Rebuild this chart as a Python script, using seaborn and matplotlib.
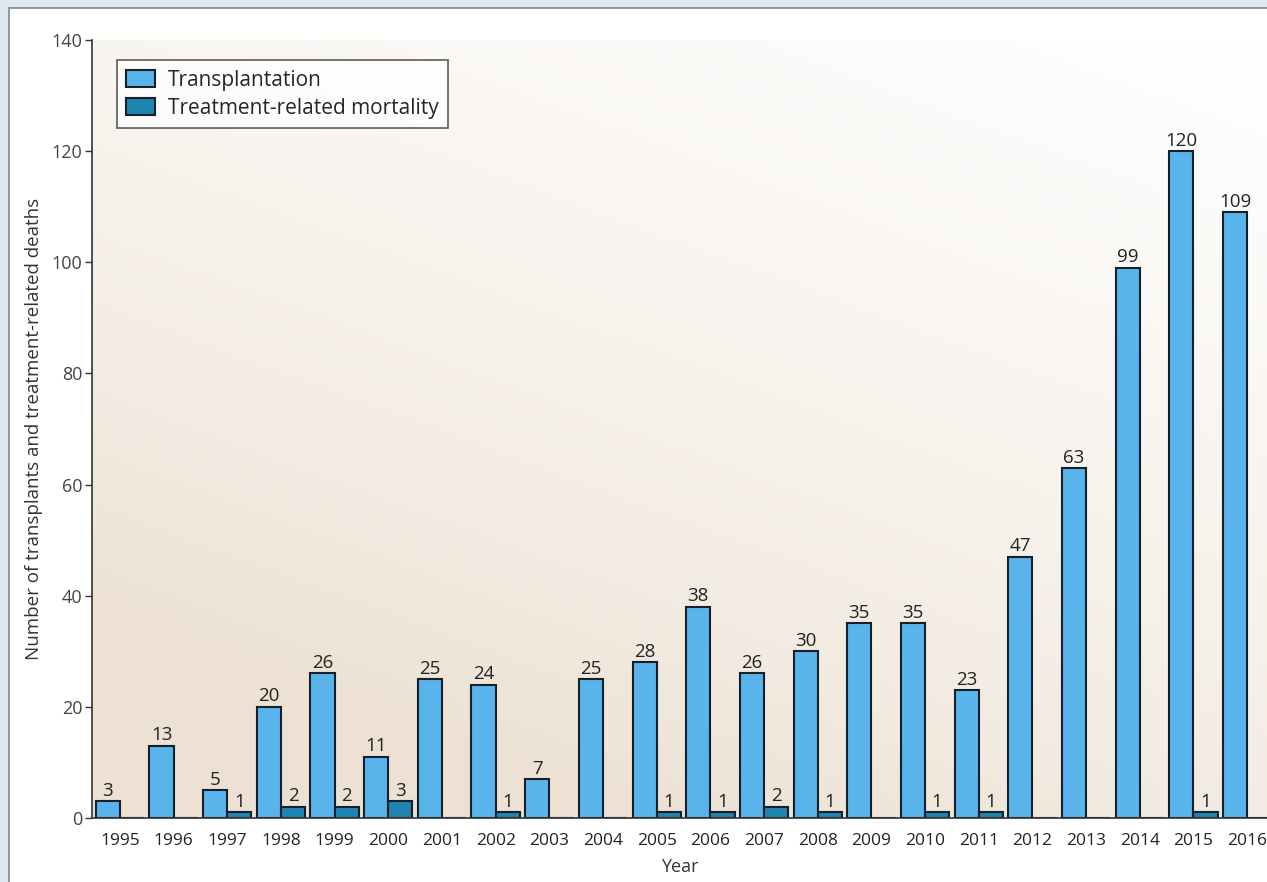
import numpy as np
import pandas as pd
import seaborn as sns
from matplotlib import pyplot as plt
from matplotlib.patches import Rectangle

years = [str(y) for y in range(1995, 2017)]
transplants = [3, 13, 5, 20, 26, 11, 25, 24, 7, 25, 28, 38, 26, 30, 35, 35, 23, 47, 63, 99, 120, 109]
deaths = [0, 0, 1, 2, 2, 3, 0, 1, 0, 0, 1, 1, 2, 1, 0, 1, 1, 0, 0, 0, 1, 0]
series = ["Transplantation", "Treatment-related mortality"]
yticks = [0, 20, 40, 60, 80, 100, 120, 140]

df = pd.DataFrame({
    "Year": years * 2,
    "value": transplants + deaths,
    "series": [series[0]] * len(years) + [series[1]] * len(years),
})

sns.set_theme(style="white")
plt.rcParams['font.family'] = ['Open Sans', 'DejaVu Sans']

fig = plt.figure(figsize=(12.67, 8.82), dpi=100)
fig.patch.set_facecolor("#dfe8f0")

# outer panel (only top and left borders show)
bg = fig.add_axes([0.0063, -0.05, 1.05, 1.042])
bg.set_xlim(0, 1)
bg.set_ylim(0, 1)
bg.axis("off")
bg.add_patch(Rectangle((0, 0), 1, 1, facecolor="white", edgecolor="#8a949e", lw=2))

ax = fig.add_axes([0.0726, 0.0726, 0.9274, 0.882])
ax.set_facecolor("none")

# beige gradient behind bars, darker at lower left
gx = np.linspace(0, 1, 200)
gy = np.linspace(0, 1, 200)
X, Y = np.meshgrid(gx, gy)
w = np.clip(1.0 - (0.5 * (1 - X) + 0.9 * (1 - Y)) / 1.15, 0, 1)  # 1 = white
w = w ** 0.7
img = np.zeros((200, 200, 3))
base = np.array([236, 225, 210]) / 255
img[:] = base[None, None, :] * (1 - w[..., None]) + w[..., None]
ax.imshow(img, extent=[-0.52, 21.37, 0, 140], origin="lower", aspect="auto", zorder=0)

sns.barplot(data=df, x="Year", y="value", hue="series", order=years,
            palette=["#5ab4ec", "#1f85b0"], saturation=1, width=0.9, dodge=True,
            edgecolor="#16202a", linewidth=1.5, ax=ax, zorder=2)

for cont in ax.containers:
    labels = [f"{int(v)}" if v > 0 else "" for v in cont.datavalues]
    ax.bar_label(cont, labels=labels, padding=1, fontsize=13.5, color="#222222")

ax.set_xlim(-0.52, 21.37)
ax.set_ylim(0, 140)
ax.set_yticks(yticks)
ax.tick_params(axis="y", left=True, length=5, width=1, color="#333333", labelsize=13, labelcolor="#444444", pad=2)
ax.tick_params(axis="x", bottom=False, labelsize=12.5, labelcolor="#222222", pad=5)
for s in ["top", "right"]:
    ax.spines[s].set_visible(False)
for s in ["left", "bottom"]:
    ax.spines[s].set_color("#333333")
    ax.spines[s].set_linewidth(1.2)

ax.set_xlabel("Year", fontsize=13, color="#333333", labelpad=6)
ax.set_ylabel("Number of transplants and treatment-related deaths", fontsize=13.5, color="#333333", labelpad=6)

leg = ax.legend(loc="upper left", bbox_to_anchor=(0.021, 0.974), borderaxespad=0, fontsize=15,
                frameon=True, fancybox=False, edgecolor="#333333", handlelength=1.4, handleheight=0.9,
                borderpad=0.45, labelspacing=0.35, handletextpad=0.6)
leg.get_frame().set_linewidth(1.2)
leg.get_frame().set_facecolor("white")

fig.savefig("out.png", dpi=100, facecolor=fig.get_facecolor())
